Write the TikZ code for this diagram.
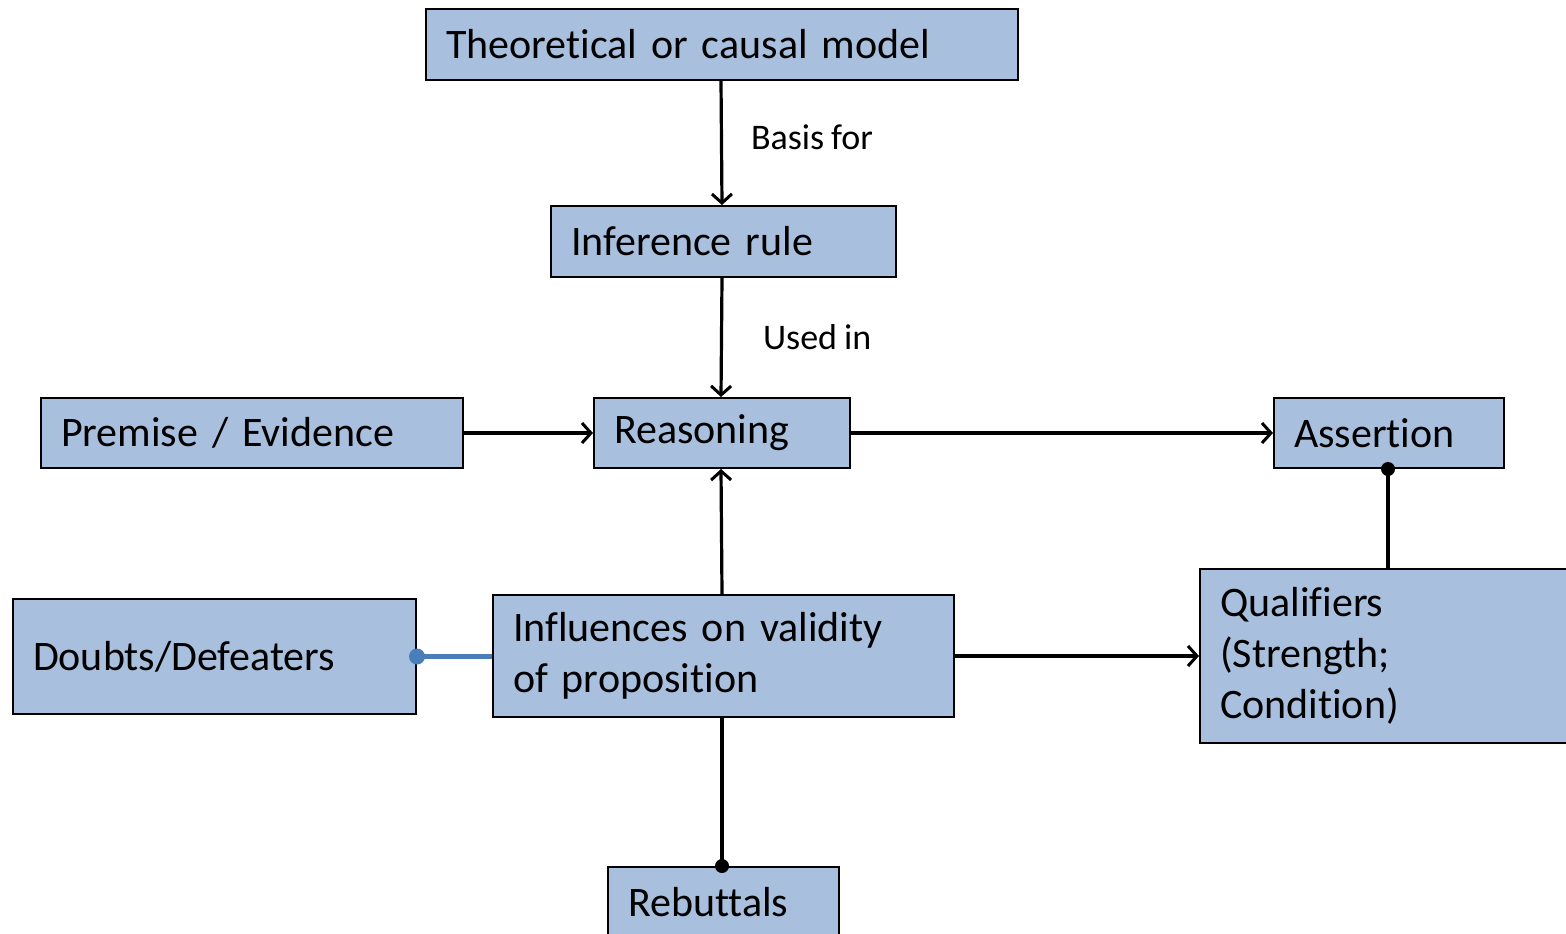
\documentclass[tikz,border=0pt]{standalone}
\usepackage{fontspec}
\setmainfont{Carlito}[Ligatures=CommonOff, WordSpace=0.85]
\usetikzlibrary{arrows.meta}
\definecolor{boxfill}{RGB}{168,192,222}
\definecolor{linkblue}{RGB}{74,126,187}
\tikzset{
  box/.style={draw=black, line width=2pt, fill=boxfill, rectangle,
    anchor=north west, inner xsep=20pt, inner ysep=0pt, align=left,
    font=\fontsize{42}{51}\selectfont},
  lbl/.style={font=\fontsize{36}{40}\selectfont, inner sep=0pt},
  conn/.style={line width=3.2pt, draw=black},
  arr/.style={conn, -{Straight Barb[length=9pt,width=20pt,line width=3pt]}},
}
\newcommand{\bx}[5]{% name, x, y, width, height, text follows
  \node[box, text width=#4-40pt, minimum height=#5] (#1) at (#2,#3)}
\begin{document}
\begin{tikzpicture}[x=1pt,y=-1pt]
\useasboundingbox (0,0) rectangle (1566,934);
\clip (0,0) rectangle (1566,934);
\bx{theory}{425}{8}{592pt}{71pt} {Theoretical or causal model};
\bx{rule}{550}{205}{345pt}{71pt} {Inference rule};
\bx{premise}{40}{397}{422pt}{70pt} {Premise / Evidence};
\bx{reason}{593}{397}{256pt}{70pt} {Reasoning};
\bx{assert}{1273}{397}{230pt}{70pt} {Assertion};
\bx{doubts}{12}{598}{403pt}{115pt} {Doubts/Defeaters};
\bx{influ}{492}{594}{461pt}{122pt} {Influences on validity\\of proposition};
\bx{qual}{1199}{568}{420pt}{174pt} {Qualifiers\\(Strength;\\Condition)};
\bx{rebut}{607}{866}{231pt}{71pt} {Rebuttals};

% vertical chain through the model, rule and reasoning
\draw[arr] (theory.south -| 721,0) -- (rule.north -| 722,0)
  node[lbl, pos=0.45, anchor=west, xshift=28pt] {Basis for};
\draw[arr] (rule.south -| 722,0) -- (reason.north -| 721,0)
  node[lbl, pos=0.5, anchor=west, xshift=40pt] {Used in};
\draw[arr] (premise.east) -- (reason.west);
\draw[arr] (reason.east) -- (assert.west);
\draw[arr] (influ.north -| 722,0) -- (reason.south -| 721,0);
\draw[arr] (influ.east) -- (qual.west |- influ.east);

% links ending in dots
\draw[conn] (assert.south -| 1388,0) -- (qual.north -| 1388,0);
\fill (assert.south -| 1388,0) circle (7pt);
\draw[conn] (influ.south -| 722,0) -- (rebut.north -| 722,0);
\fill (rebut.north -| 722,0) circle (7pt);
\draw[linkblue, line width=4.5pt] (doubts.east) -- (influ.west |- doubts.east);
\fill[linkblue] (doubts.east) circle (8pt);
\end{tikzpicture}
\end{document}
